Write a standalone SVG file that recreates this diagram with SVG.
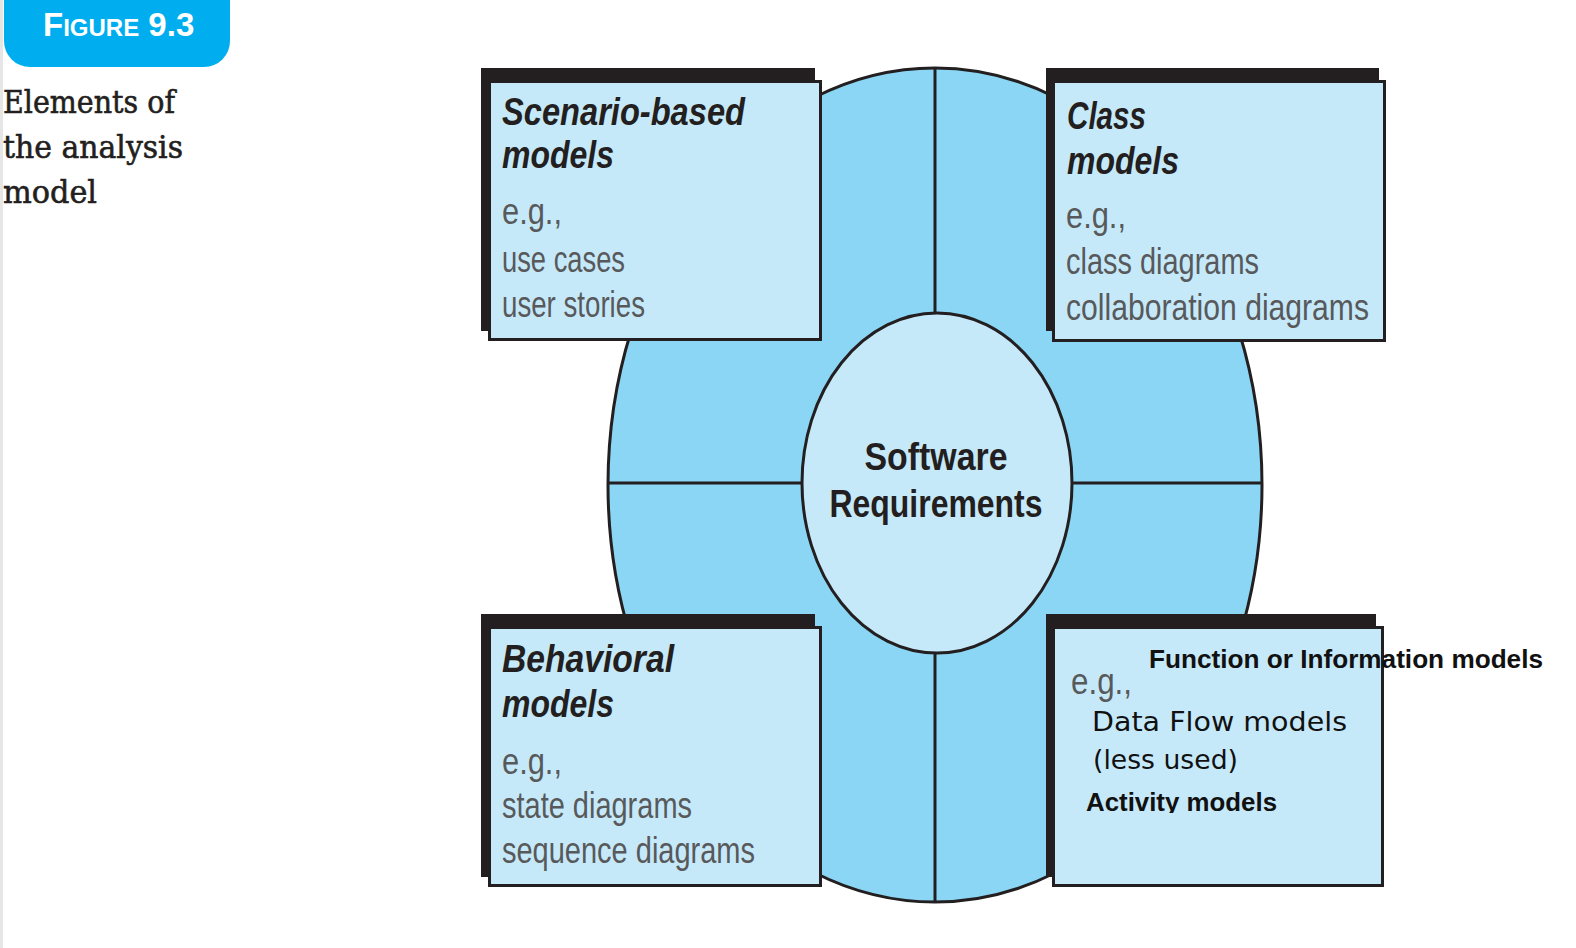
<svg xmlns="http://www.w3.org/2000/svg" width="1576" height="948" viewBox="0 0 1576 948">
  <style>
    .shadow { fill: #231f20; }
    .box { fill: #c6e9fa; stroke: #231f20; stroke-width: 3; }
    .ring { fill: #8cd6f5; stroke: #231f20; stroke-width: 3; }
    .core { fill: #c6e9fa; stroke: #231f20; stroke-width: 3; }
    .divider { stroke: #231f20; stroke-width: 3; fill: none; }
    .title { font-family: "Liberation Sans", Arial, sans-serif; font-weight: bold; font-style: italic; font-size: 39px; fill: #231f20; }
    .body { font-family: "Liberation Sans", Arial, sans-serif; font-size: 36px; fill: #58595b; }
    .center { font-family: "Liberation Sans", Arial, sans-serif; font-weight: bold; font-size: 38px; fill: #231f20; }
    .note-b { font-family: "Liberation Sans", Arial, sans-serif; font-weight: bold; font-size: 26px; fill: #111; }
    .note-r { font-family: "DejaVu Sans", "Liberation Sans", sans-serif; font-size: 27px; fill: #111; }
    .caption { font-family: "DejaVu Serif", "Liberation Serif", serif; font-size: 32px; fill: #231f20; stroke: #231f20; stroke-width: 0.6; }
    .badge-text { font-family: "Liberation Sans", Arial, sans-serif; font-weight: bold; fill: #ffffff; }
  </style>
  <defs>
    <clipPath id="cut-activity">
      <rect x="1070" y="780" width="300" height="33"/>
    </clipPath>
  </defs>

  <!-- page background and edge strip -->
  <rect x="0" y="0" width="1576" height="948" fill="#ffffff"/>
  <rect x="0" y="0" width="3" height="948" fill="#e6e6e6"/>

  <!-- figure badge and caption -->
  <g id="figure-badge">
    <rect x="4" y="-40" width="226" height="107" rx="26" ry="26" fill="#00aeef"/>
    <text class="badge-text" x="43" y="36"><tspan font-size="33">F</tspan><tspan font-size="24">IGURE</tspan><tspan font-size="33"> 9.3</tspan></text>
  </g>
  <g id="caption">
    <text class="caption" x="3" y="113" textLength="172" lengthAdjust="spacingAndGlyphs">Elements of</text>
    <text class="caption" x="3" y="158" textLength="180" lengthAdjust="spacingAndGlyphs">the analysis</text>
    <text class="caption" x="3" y="203" textLength="94" lengthAdjust="spacingAndGlyphs">model</text>
  </g>

  <!-- outer ring of the analysis model -->
  <g id="ring">
    <ellipse class="ring" cx="935" cy="485" rx="327" ry="417"/>
  </g>

  <!-- quadrant dividers between the ring and the core -->
  <g id="connectors">
    <line class="divider" x1="935" y1="68" x2="935" y2="314"/>
    <line class="divider" x1="935" y1="653" x2="935" y2="902"/>
    <line class="divider" x1="607" y1="483" x2="802" y2="483"/>
    <line class="divider" x1="1072" y1="483" x2="1263" y2="483"/>
  </g>

  <!-- core: software requirements -->
  <g id="software-requirements">
    <ellipse class="core" cx="937" cy="483" rx="135" ry="170"/>
    <text class="center" x="936" y="470" text-anchor="middle" textLength="143" lengthAdjust="spacingAndGlyphs">Software</text>
    <text class="center" x="936" y="517" text-anchor="middle" textLength="213" lengthAdjust="spacingAndGlyphs">Requirements</text>
  </g>

  <!-- scenario-based models -->
  <g id="scenario-models">
    <rect class="shadow" x="481" y="68" width="334" height="263"/>
    <rect class="box" x="489.5" y="81.5" width="331" height="258"/>
    <text class="title" x="502" y="125" textLength="243" lengthAdjust="spacingAndGlyphs">Scenario-based</text>
    <text class="title" x="502" y="168" textLength="112" lengthAdjust="spacingAndGlyphs">models</text>
    <text class="body" x="502" y="224" textLength="60" lengthAdjust="spacingAndGlyphs">e.g.,</text>
    <text class="body" x="502" y="272" textLength="123" lengthAdjust="spacingAndGlyphs">use cases</text>
    <text class="body" x="502" y="317" textLength="143" lengthAdjust="spacingAndGlyphs">user stories</text>
  </g>

  <!-- class models -->
  <g id="class-models">
    <rect class="shadow" x="1046" y="68" width="333" height="263"/>
    <rect class="box" x="1053.5" y="81.5" width="331" height="259"/>
    <text class="title" x="1067" y="129" textLength="79" lengthAdjust="spacingAndGlyphs">Class</text>
    <text class="title" x="1067" y="174" textLength="112" lengthAdjust="spacingAndGlyphs">models</text>
    <text class="body" x="1066" y="228" textLength="60" lengthAdjust="spacingAndGlyphs">e.g.,</text>
    <text class="body" x="1066" y="274" textLength="193" lengthAdjust="spacingAndGlyphs">class diagrams</text>
    <text class="body" x="1066" y="320" textLength="303" lengthAdjust="spacingAndGlyphs">collaboration diagrams</text>
  </g>

  <!-- behavioral models -->
  <g id="behavioral-models">
    <rect class="shadow" x="481" y="614" width="334" height="263"/>
    <rect class="box" x="489.5" y="627.5" width="331" height="258"/>
    <text class="title" x="502" y="672" textLength="172" lengthAdjust="spacingAndGlyphs">Behavioral</text>
    <text class="title" x="502" y="717" textLength="112" lengthAdjust="spacingAndGlyphs">models</text>
    <text class="body" x="502" y="774" textLength="60" lengthAdjust="spacingAndGlyphs">e.g.,</text>
    <text class="body" x="502" y="818" textLength="190" lengthAdjust="spacingAndGlyphs">state diagrams</text>
    <text class="body" x="502" y="863" textLength="253" lengthAdjust="spacingAndGlyphs">sequence diagrams</text>
  </g>

  <!-- function or information models -->
  <g id="function-models">
    <rect class="shadow" x="1046" y="614" width="330" height="263"/>
    <rect class="box" x="1053.5" y="627.5" width="329" height="258"/>
    <text class="body" x="1071" y="694" font-size="31" fill="#808285" textLength="61" lengthAdjust="spacingAndGlyphs">e.g.,</text>
    <text class="note-b" x="1149" y="668" textLength="394" lengthAdjust="spacingAndGlyphs">Function or Information models</text>
    <text class="note-r" x="1092" y="731" textLength="255" lengthAdjust="spacingAndGlyphs">Data Flow models</text>
    <text class="note-r" x="1093" y="769" textLength="145" lengthAdjust="spacingAndGlyphs">(less used)</text>
    <text class="note-b" x="1086" y="811" font-size="27" textLength="191" lengthAdjust="spacingAndGlyphs" clip-path="url(#cut-activity)">Activity models</text>
  </g>
</svg>
